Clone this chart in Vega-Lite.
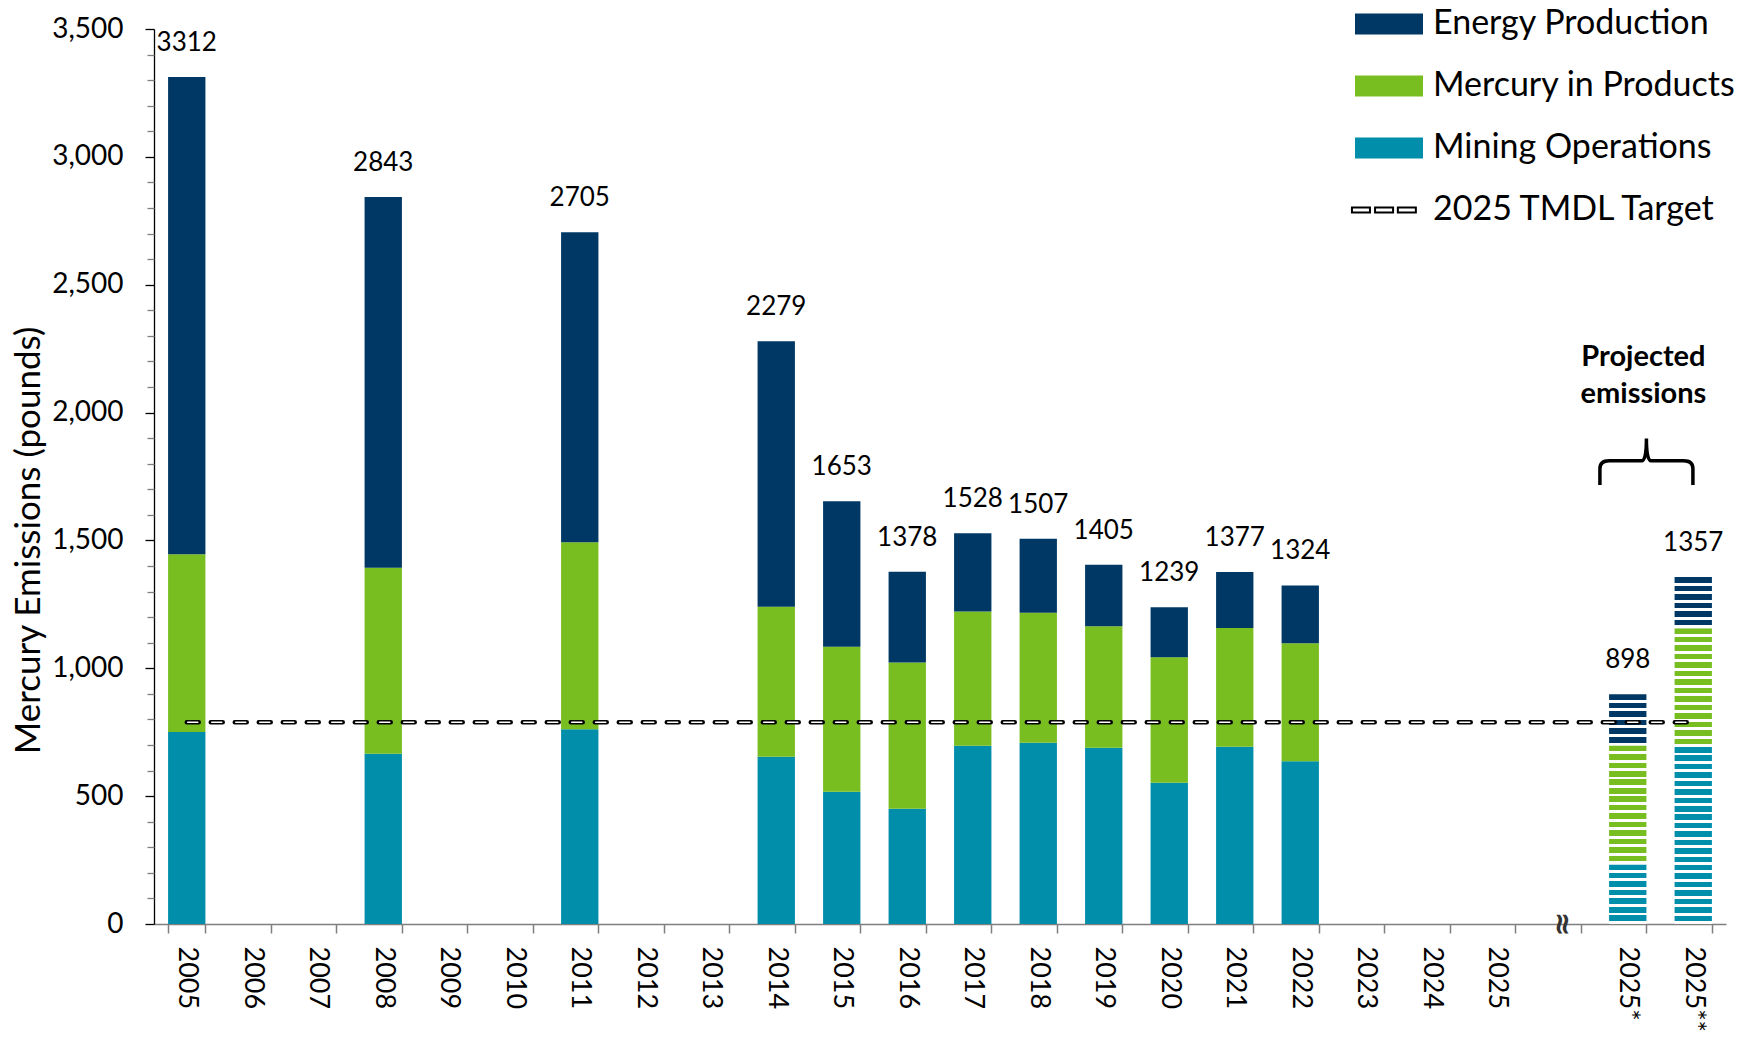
{
  "$schema": "https://vega.github.io/schema/vega-lite/v6.json",
  "autosize": {"type": "none"},
  "padding": {"left": 154, "top": 29, "right": 21, "bottom": 113},
  "width": 1572,
  "height": 895,
  "background": "#ffffff",
  "config": {"font": "Lato", "view": {"stroke": null}},
  "datasets": {
    "hist": [
      {"year": "2005", "source": "Mining Operations", "value": 751},
      {"year": "2005", "source": "Mercury in Products", "value": 695},
      {"year": "2005", "source": "Energy Production", "value": 1866},
      {"year": "2008", "source": "Mining Operations", "value": 666},
      {"year": "2008", "source": "Mercury in Products", "value": 727},
      {"year": "2008", "source": "Energy Production", "value": 1450},
      {"year": "2011", "source": "Mining Operations", "value": 762},
      {"year": "2011", "source": "Mercury in Products", "value": 731},
      {"year": "2011", "source": "Energy Production", "value": 1212},
      {"year": "2014", "source": "Mining Operations", "value": 654},
      {"year": "2014", "source": "Mercury in Products", "value": 587},
      {"year": "2014", "source": "Energy Production", "value": 1038},
      {"year": "2015", "source": "Mining Operations", "value": 517},
      {"year": "2015", "source": "Mercury in Products", "value": 567},
      {"year": "2015", "source": "Energy Production", "value": 569},
      {"year": "2016", "source": "Mining Operations", "value": 451},
      {"year": "2016", "source": "Mercury in Products", "value": 572},
      {"year": "2016", "source": "Energy Production", "value": 355},
      {"year": "2017", "source": "Mining Operations", "value": 697},
      {"year": "2017", "source": "Mercury in Products", "value": 525},
      {"year": "2017", "source": "Energy Production", "value": 306},
      {"year": "2018", "source": "Mining Operations", "value": 709},
      {"year": "2018", "source": "Mercury in Products", "value": 508},
      {"year": "2018", "source": "Energy Production", "value": 290},
      {"year": "2019", "source": "Mining Operations", "value": 689},
      {"year": "2019", "source": "Mercury in Products", "value": 475},
      {"year": "2019", "source": "Energy Production", "value": 241},
      {"year": "2020", "source": "Mining Operations", "value": 552},
      {"year": "2020", "source": "Mercury in Products", "value": 491},
      {"year": "2020", "source": "Energy Production", "value": 196},
      {"year": "2021", "source": "Mining Operations", "value": 693},
      {"year": "2021", "source": "Mercury in Products", "value": 465},
      {"year": "2021", "source": "Energy Production", "value": 219},
      {"year": "2022", "source": "Mining Operations", "value": 636},
      {"year": "2022", "source": "Mercury in Products", "value": 462},
      {"year": "2022", "source": "Energy Production", "value": 226}
    ],
    "proj": [
      {"year": "2025*", "source": "Mining Operations", "value": 233},
      {"year": "2025*", "source": "Mercury in Products", "value": 465},
      {"year": "2025*", "source": "Energy Production", "value": 200},
      {"year": "2025**", "source": "Mining Operations", "value": 692},
      {"year": "2025**", "source": "Mercury in Products", "value": 465},
      {"year": "2025**", "source": "Energy Production", "value": 200}
    ],
    "totals": [
      {"year": "2005", "total": 3312},
      {"year": "2008", "total": 2843},
      {"year": "2011", "total": 2705},
      {"year": "2014", "total": 2279},
      {"year": "2015", "total": 1653},
      {"year": "2016", "total": 1378},
      {"year": "2017", "total": 1528},
      {"year": "2018", "total": 1507},
      {"year": "2019", "total": 1405},
      {"year": "2020", "total": 1239},
      {"year": "2021", "total": 1377},
      {"year": "2022", "total": 1324},
      {"year": "2025*", "total": 898},
      {"year": "2025**", "total": 1357}
    ],
    "target": [
      {"year": "2005", "target": 789},
      {"year": "2025**", "target": 789}
    ],
    "notes": [
      {"year": "2025*", "y": 2183, "text": "Projected"},
      {"year": "2025*", "y": 2037, "text": "emissions"}
    ],
    "brace": [{"year": "2025*", "y": 1808}],
    "brk": [{"year": "gap", "y": 0}]
  },
  "encoding": {
    "x": {
      "field": "year",
      "type": "nominal",
      "sort": null,
      "scale": {
        "domain": ["2005","2006","2007","2008","2009","2010","2011","2012","2013","2014","2015","2016","2017","2018","2019","2020","2021","2022","2023","2024","2025","gap","2025*","2025**"],
        "paddingInner": 0.43,
        "paddingOuter": 0.215
      },
      "axis": {
        "title": null,
        "labelAngle": 90,
        "labelAlign": "left",
        "labelBaseline": "middle",
        "labelFont": "Lato",
        "labelFontSize": 27,
        "labelColor": "#000000",
        "labelPadding": 13,
        "labelExpr": "datum.label === 'gap' ? '' : datum.label",
        "tickBand": "extent",
        "tickSize": 9,
        "tickColor": "#7f7f7f",
        "tickWidth": 1.5,
        "domainColor": "#7f7f7f",
        "domainWidth": 1.5,
        "grid": false
      }
    }
  },
  "resolve": {"axis": {"y": "independent"}},
  "layer": [
    {
      "layer": [
        {
          "data": {"name": "hist"},
          "mark": {"type": "bar"},
          "encoding": {
            "y": {
              "field": "value",
              "type": "quantitative",
              "stack": "zero",
              "scale": {"domain": [0, 3500], "nice": false, "zero": true},
              "axis": {
                "orient": "left",
                "title": "Mercury Emissions (pounds)",
                "titleFont": "Lato",
                "titleFontSize": 35,
                "titleFontWeight": "normal",
                "titleColor": "#000000",
                "titleX": -126,
                "titleY": 511,
                "titleAngle": -90,
                "titleAlign": "center",
                "titleBaseline": "middle",
                "values": [0, 500, 1000, 1500, 2000, 2500, 3000, 3500],
                "format": ",.0f",
                "labelOverlap": false,
                "labelFont": "Lato",
                "labelFontSize": 28,
                "labelColor": "#000000",
                "labelPadding": 22,
                "tickSize": 9,
                "tickColor": "#000000",
                "tickWidth": 1.3,
                "domainColor": "#000000",
                "domainWidth": 1.3,
                "grid": false
              }
            },
            "color": {
              "field": "source",
              "type": "nominal",
              "scale": {
                "domain": ["Energy Production", "Mercury in Products", "Mining Operations", "2025 TMDL Target"],
                "range": ["#003865", "#78be20", "#008eaa", "#ffffff"]
              },
              "legend": {
                "orient": "none",
                "legendX": 1218,
                "legendY": -22,
                "title": null,
                "padding": 0,
                "labelFont": "Lato",
                "labelFontSize": 34,
                "labelColor": "#000000",
                "labelOffset": 27,
                "labelLimit": 600,
                "symbolSize": 4624,
                "rowPadding": 28,
                "symbolOpacity": 1,
                "encode": {
                  "symbols": {
                    "update": {
                      "shape": {"signal": "datum.value === '2025 TMDL Target' ? 'M-1.09,-0.07H-0.56V0.07H-1.09Z M-0.41,-0.07H0.12V0.07H-0.41Z M0.26,-0.07H0.79V0.07H0.26Z' : 'M-1,-0.31H1V0.31H-1Z'"},
                      "stroke": {"value": "#000000"},
                      "strokeWidth": {"signal": "datum.value === '2025 TMDL Target' ? 2 : 0"}
                    }
                  }
                }
              }
            },
            "order": {"field": "source", "sort": "descending"}
          }
        },
        {
          "data": {"name": "proj"},
          "mark": {"type": "bar"},
          "encoding": {
            "y": {"field": "value", "type": "quantitative", "stack": "zero"},
            "detail": {"field": "source", "type": "nominal"},
            "order": {"field": "source", "sort": "descending"},
            "fill": {
              "condition": [
                {
                  "test": "datum.source === 'Energy Production'",
                  "value": {"gradient": "linear", "x1": 0, "y1": 0, "x2": 0, "y2": 1, "stops": [
                    {"offset": 0, "color": "#003865"}, {"offset": 0.1083, "color": "#003865"}, {"offset": 0.1083, "color": "#ffffff"}, {"offset": 0.1667, "color": "#ffffff"},
                    {"offset": 0.1667, "color": "#003865"}, {"offset": 0.275, "color": "#003865"}, {"offset": 0.275, "color": "#ffffff"}, {"offset": 0.3333, "color": "#ffffff"},
                    {"offset": 0.3333, "color": "#003865"}, {"offset": 0.4417, "color": "#003865"}, {"offset": 0.4417, "color": "#ffffff"}, {"offset": 0.5, "color": "#ffffff"},
                    {"offset": 0.5, "color": "#003865"}, {"offset": 0.6083, "color": "#003865"}, {"offset": 0.6083, "color": "#ffffff"}, {"offset": 0.6667, "color": "#ffffff"},
                    {"offset": 0.6667, "color": "#003865"}, {"offset": 0.775, "color": "#003865"}, {"offset": 0.775, "color": "#ffffff"}, {"offset": 0.8333, "color": "#ffffff"},
                    {"offset": 0.8333, "color": "#003865"}, {"offset": 0.9417, "color": "#003865"}, {"offset": 0.9417, "color": "#ffffff"}, {"offset": 1, "color": "#ffffff"}
                  ]}
                },
                {
                  "test": "datum.source === 'Mercury in Products'",
                  "value": {"gradient": "linear", "x1": 0, "y1": 0, "x2": 0, "y2": 1, "stops": [
                    {"offset": 0, "color": "#78be20"}, {"offset": 0.0464, "color": "#78be20"}, {"offset": 0.0464, "color": "#ffffff"}, {"offset": 0.0714, "color": "#ffffff"},
                    {"offset": 0.0714, "color": "#78be20"}, {"offset": 0.1179, "color": "#78be20"}, {"offset": 0.1179, "color": "#ffffff"}, {"offset": 0.1429, "color": "#ffffff"},
                    {"offset": 0.1429, "color": "#78be20"}, {"offset": 0.1893, "color": "#78be20"}, {"offset": 0.1893, "color": "#ffffff"}, {"offset": 0.2143, "color": "#ffffff"},
                    {"offset": 0.2143, "color": "#78be20"}, {"offset": 0.2607, "color": "#78be20"}, {"offset": 0.2607, "color": "#ffffff"}, {"offset": 0.2857, "color": "#ffffff"},
                    {"offset": 0.2857, "color": "#78be20"}, {"offset": 0.3321, "color": "#78be20"}, {"offset": 0.3321, "color": "#ffffff"}, {"offset": 0.3571, "color": "#ffffff"},
                    {"offset": 0.3571, "color": "#78be20"}, {"offset": 0.4036, "color": "#78be20"}, {"offset": 0.4036, "color": "#ffffff"}, {"offset": 0.4286, "color": "#ffffff"},
                    {"offset": 0.4286, "color": "#78be20"}, {"offset": 0.475, "color": "#78be20"}, {"offset": 0.475, "color": "#ffffff"}, {"offset": 0.5, "color": "#ffffff"},
                    {"offset": 0.5, "color": "#78be20"}, {"offset": 0.5464, "color": "#78be20"}, {"offset": 0.5464, "color": "#ffffff"}, {"offset": 0.5714, "color": "#ffffff"},
                    {"offset": 0.5714, "color": "#78be20"}, {"offset": 0.6179, "color": "#78be20"}, {"offset": 0.6179, "color": "#ffffff"}, {"offset": 0.6429, "color": "#ffffff"},
                    {"offset": 0.6429, "color": "#78be20"}, {"offset": 0.6893, "color": "#78be20"}, {"offset": 0.6893, "color": "#ffffff"}, {"offset": 0.7143, "color": "#ffffff"},
                    {"offset": 0.7143, "color": "#78be20"}, {"offset": 0.7607, "color": "#78be20"}, {"offset": 0.7607, "color": "#ffffff"}, {"offset": 0.7857, "color": "#ffffff"},
                    {"offset": 0.7857, "color": "#78be20"}, {"offset": 0.8321, "color": "#78be20"}, {"offset": 0.8321, "color": "#ffffff"}, {"offset": 0.8571, "color": "#ffffff"},
                    {"offset": 0.8571, "color": "#78be20"}, {"offset": 0.9036, "color": "#78be20"}, {"offset": 0.9036, "color": "#ffffff"}, {"offset": 0.9286, "color": "#ffffff"},
                    {"offset": 0.9286, "color": "#78be20"}, {"offset": 0.975, "color": "#78be20"}, {"offset": 0.975, "color": "#ffffff"}, {"offset": 1, "color": "#ffffff"}
                  ]}
                },
                {
                  "test": "datum.year === '2025*'",
                  "value": {"gradient": "linear", "x1": 0, "y1": 0, "x2": 0, "y2": 1, "stops": [
                    {"offset": 0, "color": "#008eaa"}, {"offset": 0.0929, "color": "#008eaa"}, {"offset": 0.0929, "color": "#ffffff"}, {"offset": 0.1429, "color": "#ffffff"},
                    {"offset": 0.1429, "color": "#008eaa"}, {"offset": 0.2357, "color": "#008eaa"}, {"offset": 0.2357, "color": "#ffffff"}, {"offset": 0.2857, "color": "#ffffff"},
                    {"offset": 0.2857, "color": "#008eaa"}, {"offset": 0.3786, "color": "#008eaa"}, {"offset": 0.3786, "color": "#ffffff"}, {"offset": 0.4286, "color": "#ffffff"},
                    {"offset": 0.4286, "color": "#008eaa"}, {"offset": 0.5214, "color": "#008eaa"}, {"offset": 0.5214, "color": "#ffffff"}, {"offset": 0.5714, "color": "#ffffff"},
                    {"offset": 0.5714, "color": "#008eaa"}, {"offset": 0.6643, "color": "#008eaa"}, {"offset": 0.6643, "color": "#ffffff"}, {"offset": 0.7143, "color": "#ffffff"},
                    {"offset": 0.7143, "color": "#008eaa"}, {"offset": 0.8071, "color": "#008eaa"}, {"offset": 0.8071, "color": "#ffffff"}, {"offset": 0.8571, "color": "#ffffff"},
                    {"offset": 0.8571, "color": "#008eaa"}, {"offset": 0.95, "color": "#008eaa"}, {"offset": 0.95, "color": "#ffffff"}, {"offset": 1, "color": "#ffffff"}
                  ]}
                }
              ],
              "value": {"gradient": "linear", "x1": 0, "y1": 0, "x2": 0, "y2": 1, "stops": [
                {"offset": 0, "color": "#008eaa"}, {"offset": 0.031, "color": "#008eaa"}, {"offset": 0.031, "color": "#ffffff"}, {"offset": 0.0476, "color": "#ffffff"},
                {"offset": 0.0476, "color": "#008eaa"}, {"offset": 0.0786, "color": "#008eaa"}, {"offset": 0.0786, "color": "#ffffff"}, {"offset": 0.0952, "color": "#ffffff"},
                {"offset": 0.0952, "color": "#008eaa"}, {"offset": 0.1262, "color": "#008eaa"}, {"offset": 0.1262, "color": "#ffffff"}, {"offset": 0.1429, "color": "#ffffff"},
                {"offset": 0.1429, "color": "#008eaa"}, {"offset": 0.1738, "color": "#008eaa"}, {"offset": 0.1738, "color": "#ffffff"}, {"offset": 0.1905, "color": "#ffffff"},
                {"offset": 0.1905, "color": "#008eaa"}, {"offset": 0.2214, "color": "#008eaa"}, {"offset": 0.2214, "color": "#ffffff"}, {"offset": 0.2381, "color": "#ffffff"},
                {"offset": 0.2381, "color": "#008eaa"}, {"offset": 0.269, "color": "#008eaa"}, {"offset": 0.269, "color": "#ffffff"}, {"offset": 0.2857, "color": "#ffffff"},
                {"offset": 0.2857, "color": "#008eaa"}, {"offset": 0.3167, "color": "#008eaa"}, {"offset": 0.3167, "color": "#ffffff"}, {"offset": 0.3333, "color": "#ffffff"},
                {"offset": 0.3333, "color": "#008eaa"}, {"offset": 0.3643, "color": "#008eaa"}, {"offset": 0.3643, "color": "#ffffff"}, {"offset": 0.381, "color": "#ffffff"},
                {"offset": 0.381, "color": "#008eaa"}, {"offset": 0.4119, "color": "#008eaa"}, {"offset": 0.4119, "color": "#ffffff"}, {"offset": 0.4286, "color": "#ffffff"},
                {"offset": 0.4286, "color": "#008eaa"}, {"offset": 0.4595, "color": "#008eaa"}, {"offset": 0.4595, "color": "#ffffff"}, {"offset": 0.4762, "color": "#ffffff"},
                {"offset": 0.4762, "color": "#008eaa"}, {"offset": 0.5071, "color": "#008eaa"}, {"offset": 0.5071, "color": "#ffffff"}, {"offset": 0.5238, "color": "#ffffff"},
                {"offset": 0.5238, "color": "#008eaa"}, {"offset": 0.5548, "color": "#008eaa"}, {"offset": 0.5548, "color": "#ffffff"}, {"offset": 0.5714, "color": "#ffffff"},
                {"offset": 0.5714, "color": "#008eaa"}, {"offset": 0.6024, "color": "#008eaa"}, {"offset": 0.6024, "color": "#ffffff"}, {"offset": 0.619, "color": "#ffffff"},
                {"offset": 0.619, "color": "#008eaa"}, {"offset": 0.65, "color": "#008eaa"}, {"offset": 0.65, "color": "#ffffff"}, {"offset": 0.6667, "color": "#ffffff"},
                {"offset": 0.6667, "color": "#008eaa"}, {"offset": 0.6976, "color": "#008eaa"}, {"offset": 0.6976, "color": "#ffffff"}, {"offset": 0.7143, "color": "#ffffff"},
                {"offset": 0.7143, "color": "#008eaa"}, {"offset": 0.7452, "color": "#008eaa"}, {"offset": 0.7452, "color": "#ffffff"}, {"offset": 0.7619, "color": "#ffffff"},
                {"offset": 0.7619, "color": "#008eaa"}, {"offset": 0.7929, "color": "#008eaa"}, {"offset": 0.7929, "color": "#ffffff"}, {"offset": 0.8095, "color": "#ffffff"},
                {"offset": 0.8095, "color": "#008eaa"}, {"offset": 0.8405, "color": "#008eaa"}, {"offset": 0.8405, "color": "#ffffff"}, {"offset": 0.8571, "color": "#ffffff"},
                {"offset": 0.8571, "color": "#008eaa"}, {"offset": 0.8881, "color": "#008eaa"}, {"offset": 0.8881, "color": "#ffffff"}, {"offset": 0.9048, "color": "#ffffff"},
                {"offset": 0.9048, "color": "#008eaa"}, {"offset": 0.9357, "color": "#008eaa"}, {"offset": 0.9357, "color": "#ffffff"}, {"offset": 0.9524, "color": "#ffffff"},
                {"offset": 0.9524, "color": "#008eaa"}, {"offset": 0.9833, "color": "#008eaa"}, {"offset": 0.9833, "color": "#ffffff"}, {"offset": 1, "color": "#ffffff"}
              ]}
            }
          }
        },
        {
          "data": {"name": "target"},
          "mark": {"type": "line", "stroke": "#000000", "strokeWidth": 4.5, "strokeDash": [12, 12], "strokeCap": "round"},
          "encoding": {
            "y": {"field": "target", "type": "quantitative"}
          }
        },
        {
          "data": {"name": "target"},
          "mark": {"type": "line", "stroke": "#ffffff", "strokeWidth": 1.6, "strokeDash": [10, 14], "strokeDashOffset": -1, "strokeCap": "round"},
          "encoding": {
            "y": {"field": "target", "type": "quantitative"}
          }
        },
        {
          "data": {"name": "totals"},
          "mark": {"type": "text", "font": "Lato", "fontSize": 26, "color": "#000000", "baseline": "alphabetic", "align": "center", "dy": -26},
          "encoding": {
            "y": {"field": "total", "type": "quantitative"},
            "text": {"field": "total", "type": "quantitative", "format": "d"}
          }
        },
        {
          "data": {"name": "notes"},
          "mark": {"type": "text", "font": "Lato", "fontSize": 29, "fontWeight": "bold", "color": "#000000", "baseline": "alphabetic", "align": "center", "dx": -3},
          "encoding": {
            "x": {"field": "year", "type": "nominal", "bandPosition": 1},
            "y": {"field": "y", "type": "quantitative"},
            "text": {"field": "text", "type": "nominal"}
          }
        },
        {
          "data": {"name": "brace"},
          "mark": {"type": "point", "shape": "M-1,0.5 L-1,0.15 Q-1,-0.02 -0.8,-0.02 L-0.1,-0.02 Q0,-0.02 0,-0.5 Q0,-0.02 0.1,-0.02 L0.8,-0.02 Q1,-0.02 1,0.15 L1,0.5", "filled": false, "stroke": "#000000", "strokeWidth": 3.5, "size": 8649, "opacity": 1},
          "encoding": {
            "x": {"field": "year", "type": "nominal", "bandPosition": 1},
            "y": {"field": "y", "type": "quantitative"}
          }
        },
        {
          "data": {"name": "brk"},
          "mark": {"type": "text", "text": "≈", "font": "DejaVu Sans", "fontSize": 30, "fontWeight": "bold", "angle": 90, "align": "center", "baseline": "middle", "color": "#333333"},
          "encoding": {
            "y": {"field": "y", "type": "quantitative"}
          }
        }
      ]
    },
    {
      "data": {"name": "target"},
      "mark": {"type": "point", "opacity": 0},
      "encoding": {
        "y": {
          "field": "target",
          "type": "quantitative",
          "axis": {
            "orient": "left",
            "title": null,
            "values": [100,200,300,400,600,700,800,900,1100,1200,1300,1400,1600,1700,1800,1900,2100,2200,2300,2400,2600,2700,2800,2900,3100,3200,3300,3400],
            "labels": false,
            "domain": false,
            "ticks": true,
            "tickSize": 7,
            "tickColor": "#7f7f7f",
            "tickWidth": 1.3,
            "grid": false
          }
        }
      }
    }
  ]
}
